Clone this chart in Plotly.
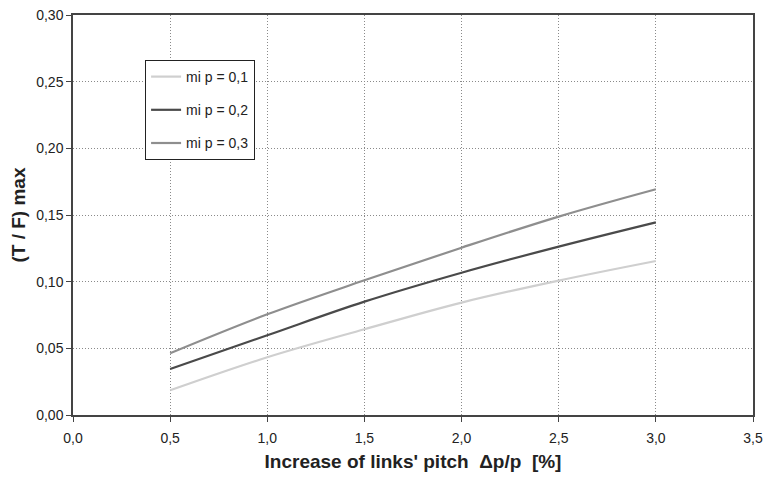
import plotly.graph_objects as go

x_vals = [0.5, 1.0, 1.5, 2.0, 2.5, 3.0]
y_p01 = [0.0185, 0.0433, 0.0643, 0.0843, 0.1008, 0.1155]
y_p02 = [0.0345, 0.0598, 0.0850, 0.1067, 0.1263, 0.1445]
y_p03 = [0.0463, 0.0755, 0.1010, 0.1255, 0.1488, 0.1693]
names = ["mi p = 0,1", "mi p = 0,2", "mi p = 0,3"]
colors = ["#cfcfcf", "#4a4a4a", "#8e8e8e"]

fig = go.Figure()
for i, (ys, nm, c) in enumerate(zip([y_p01, y_p02, y_p03], names, colors)):
    fig.add_trace(go.Scatter(x=x_vals, y=ys, mode="lines", name=nm,
                             line=dict(color=c, width=2.2, shape="spline", smoothing=1.0),
                             legendgroup=f"g{i}"))

font = "Liberation Sans, Arial, sans-serif"
fig.update_layout(
    width=766, height=480,
    margin=dict(l=73, r=13, t=15, b=65),
    paper_bgcolor="white", plot_bgcolor="white",
    separators=",.",
    font=dict(family=font, size=14, color="#222"),
    showlegend=True,
    legend=dict(x=0.106, y=0.8875, xanchor="left", yanchor="top",
                bordercolor="#222", borderwidth=1, bgcolor="white",
                font=dict(size=14, color="#222"), tracegroupgap=12,
                traceorder="grouped", itemwidth=30),
    xaxis=dict(range=[0, 3.5], tick0=0, dtick=0.5, tickformat=".1f",
               showgrid=True, gridcolor="#8a8a8a", griddash="1px,2px", gridwidth=1,
               showline=True, linecolor="#444", linewidth=1.5, mirror=True,
               ticks="outside", ticklen=5, tickcolor="#444", ticklabelstandoff=4,
               zeroline=False, automargin=False,
               title=dict(text="Increase of links' pitch  Δp/p  [%]",
                          font=dict(size=19, family=font, color="#222", weight="bold"),
                          standoff=10)),
    yaxis=dict(range=[0, 0.30], tick0=0, dtick=0.05, tickformat=".2f",
               showgrid=True, gridcolor="#8a8a8a", griddash="1px,2px", gridwidth=1,
               showline=True, linecolor="#444", linewidth=1.5, mirror=True,
               ticks="outside", ticklen=5, tickcolor="#444",
               zeroline=False, automargin=False,
               title=dict(text="(T / F) max",
                          font=dict(size=19, family=font, color="#222", weight="bold"),
                          standoff=6)),
)

fig.write_html("out.html")
